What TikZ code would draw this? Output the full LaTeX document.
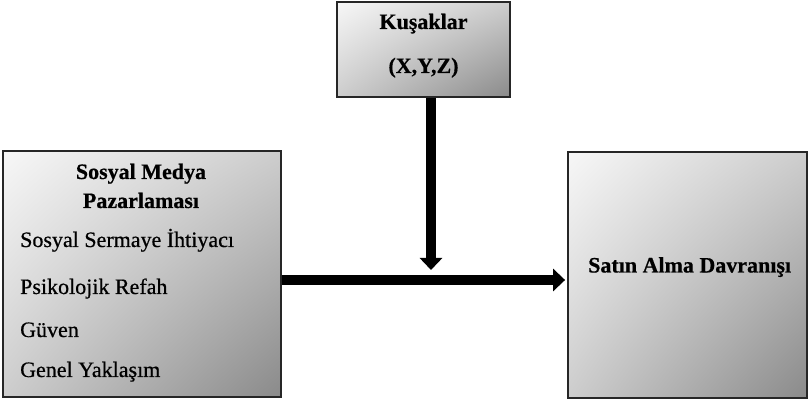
\documentclass[tikz,border=0pt]{standalone}
\usepackage{fontspec}
\setmainfont{Liberation Serif}[FakeBold=0.6]
\usetikzlibrary{arrows.meta,shadings}
\definecolor{boxlight}{HTML}{F7F7F7}
\definecolor{boxmid}{HTML}{CDCDCD}
\definecolor{boxdark}{HTML}{8A8A8A}
\begin{document}
\begin{tikzpicture}[x=1pt,y=-1pt,
  gradbox/.style={draw=black!85, line width=1.8pt, shade,
    upper left=boxlight, upper right=boxmid, lower left=boxmid, lower right=boxdark,
    minimum width=#1, inner sep=0pt},
  txt/.style={anchor=base west, inner sep=0pt, font=\fontsize{22}{26}\selectfont},
  ttl/.style={anchor=base, inner sep=0pt, font=\fontsize{22}{26}\selectfont\bfseries},
  thick arrow/.style={line width=10pt, -{Triangle[width=22pt,length=12pt]}}]
\useasboundingbox (0,0) rectangle (809,403);

% boxes
\node[gradbox=173pt, minimum height=95pt] (kus) at (423.5,49.5) {};
\node[gradbox=278pt, minimum height=246pt] (smp) at (142,274) {};
\node[gradbox=239pt, minimum height=246pt] (sad) at (687.5,275) {};

% box texts
\node[ttl] (kus1) at (423.5,29) {Kuşaklar};
\node[ttl] (kus2) at (423.5,73) {(X,Y,Z)};
\node[ttl] (smp1) at (141,179) {Sosyal Medya};
\node[ttl] (smp2) at (141,208) {Pazarlaması};
\node[txt] (smp3) at (20,247) {Sosyal Sermaye İhtiyacı};
\node[txt] (smp4) at (20,294) {Psikolojik Refah};
\node[txt] (smp5) at (20,337) {Güven};
\node[txt] (smp6) at (20,377) {Genel Yaklaşım};
\node[ttl, anchor=base west] (sad1) at (588,272.5) {Satın Alma Davranışı};

% connectors
\coordinate (kusout) at (431,98);
\coordinate (mid) at (431,270);
\draw[thick arrow] (kusout) -- (mid);
\draw[thick arrow, shorten >=2pt] (smp.east |- 0,280) -- (sad.west |- 0,280);
\end{tikzpicture}
\end{document}
